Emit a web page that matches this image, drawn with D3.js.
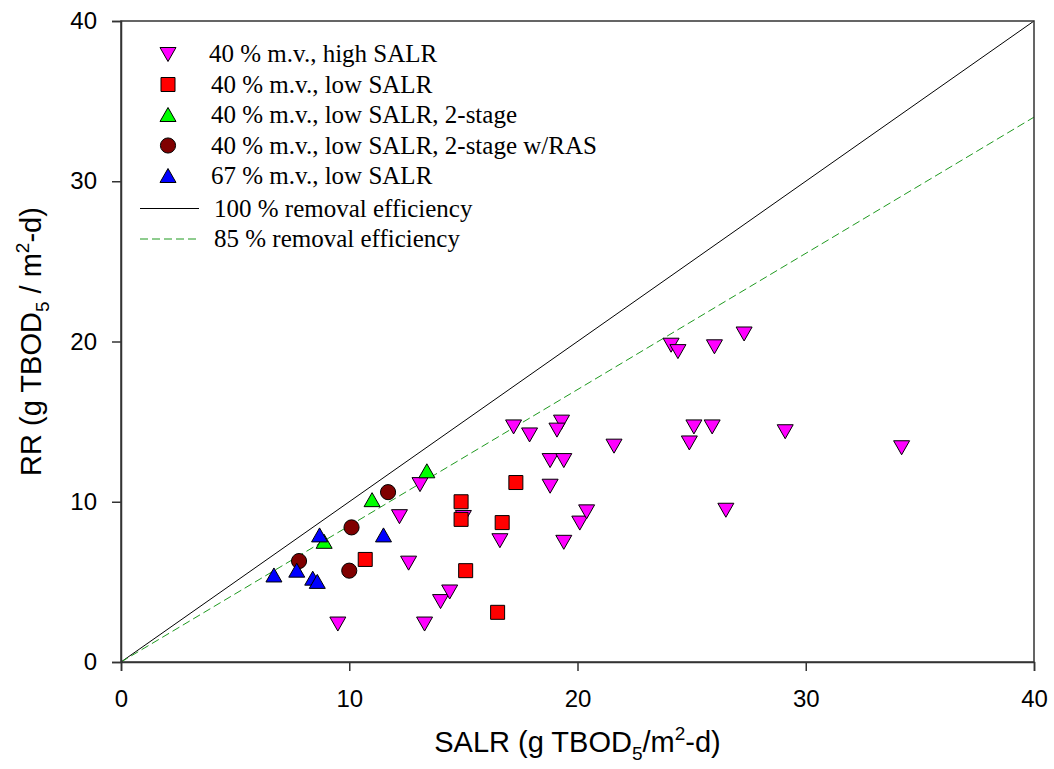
<!DOCTYPE html>
<html>
<head>
<meta charset="utf-8">
<script src="https://cdn.jsdelivr.net/npm/d3@7"></script>
<style>
  body { margin: 0; background: #fff; }
  svg { display: block; }
</style>
</head>
<body>
<div id="chart"></div>
<script>
// data, [SALR, RR]
var highSalr40 = [[9.5,2.4],[13.3,2.4],[12.6,6.2],[14.0,3.8],[14.4,4.4],[12.2,9.1],[13.1,11.1],[15.0,9.05],
  [16.6,7.6],[19.4,7.5],[20.1,8.7],[20.4,9.4],[18.8,11.0],[18.8,12.6],[19.4,12.6],[17.2,14.7],[17.9,14.2],
  [19.3,15.0],[19.1,14.5],[21.6,13.5],[25.1,14.7],[24.9,13.7],[25.9,14.7],[29.1,14.4],[34.2,13.4],[26.5,9.5],
  [24.1,19.8],[24.4,19.4],[26.0,19.7],[27.3,20.5]];
var lowSalr40 = [[17.3,11.2],[14.9,10.0],[14.9,8.9],[16.7,8.7],[15.1,5.7],[16.5,3.1],[10.7,6.4]];
var twoStage40 = [[11.0,10.1],[13.4,11.9],[8.9,7.5]];
var twoStageRas40 = [[11.7,10.6],[10.1,8.4],[7.8,6.3],[10.0,5.7]];
var lowSalr67 = [[8.7,7.9],[11.5,7.9],[6.7,5.4],[7.7,5.7],[8.4,5.2],[8.6,5.0]];
var efficiencyLines = [{name:"100 % removal efficiency", eff:1.0}, {name:"85 % removal efficiency", eff:0.85}];
var xTicks = [0,10,20,30,40];
var yTicks = [0,10,20,30,40];

var series = [
  {name:"40 % m.v., high SALR", data:highSalr40, shape:"down", fill:"#ff00ff"},
  {name:"40 % m.v., low SALR", data:lowSalr40, shape:"square", fill:"#ff0000"},
  {name:"40 % m.v., low SALR, 2-stage", data:twoStage40, shape:"up", fill:"#00ff00"},
  {name:"40 % m.v., low SALR, 2-stage w/RAS", data:twoStageRas40, shape:"circle", fill:"#800000"},
  {name:"67 % m.v., low SALR", data:lowSalr67, shape:"up", fill:"#0000ff"}
];

var W = 1054, H = 769;
var m = {left:121, right:20, top:21, bottom:107};
var sans = "'Liberation Sans', Arial, sans-serif";
var svg = d3.select("#chart").append("svg").attr("width",W).attr("height",H);

var x = d3.scaleLinear().domain([0,40]).range([m.left, W-m.right]);
var y = d3.scaleLinear().domain([0,40]).range([H-m.bottom, m.top]);

function markerPath(shape){
  if(shape==="down") return "M-8,-6.5L8,-6.5L0,7.5Z";
  if(shape==="up") return "M-8,6.5L8,6.5L0,-7.5Z";
  if(shape==="square") return "M-7,-7L7,-7L7,7L-7,7Z";
  return d3.symbol(d3.symbolCircle, 180)();
}

// reference lines
var lineGen = d3.line().x(function(d){return x(d[0])}).y(function(d){return y(d[1])});
svg.append("path").attr("d", lineGen([[0,0],[40,40*efficiencyLines[0].eff]]))
  .attr("stroke","#000").attr("stroke-width",1).attr("fill","none");
svg.append("path").attr("d", lineGen([[0,0],[40,40*efficiencyLines[1].eff]]))
  .attr("stroke","#1f9a1f").attr("stroke-width",1).attr("stroke-dasharray","8,4").attr("fill","none");

// points
series.forEach(function(s){
  svg.append("g").selectAll("path").data(s.data).enter().append("path")
    .attr("d", markerPath(s.shape))
    .attr("transform", function(d){return "translate("+x(d[0])+","+y(d[1])+")"})
    .attr("fill", s.fill).attr("stroke","#000").attr("stroke-width",1);
});

// frame
svg.append("rect").attr("x",x(0)).attr("y",y(40)).attr("width",x(40)-x(0)).attr("height",y(0)-y(40))
  .attr("fill","none").attr("stroke","#333").attr("stroke-width",1.5);

var xAxis = svg.append("g").attr("transform","translate(0,"+y(0)+")")
  .call(d3.axisBottom(x).tickValues(xTicks).tickSize(9).tickPadding(19));
var yAxis = svg.append("g").attr("transform","translate("+x(0)+",0)")
  .call(d3.axisLeft(y).tickValues(yTicks).tickSize(9).tickPadding(15));
[xAxis,yAxis].forEach(function(a){
  a.select(".domain").attr("stroke","#333").attr("stroke-width",1.5);
  a.selectAll(".tick line").attr("stroke","#333").attr("stroke-width",1.5);
  a.selectAll("text").attr("font-family",sans).attr("font-size","24px").attr("fill","#000");
});

// axis titles
var xt = svg.append("text").attr("x",(x(0)+x(40))/2).attr("y",752).attr("text-anchor","middle")
  .attr("font-family",sans).attr("font-size","29px");
xt.append("tspan").text("SALR (g TBOD");
xt.append("tspan").attr("font-size","19px").attr("dy",8).text("5");
xt.append("tspan").attr("dy",-8).text("/m");
xt.append("tspan").attr("font-size","19px").attr("dy",-12).text("2");
xt.append("tspan").attr("dy",12).text("-d)");

var yt = svg.append("text").attr("transform","translate(41,"+((y(0)+y(40))/2)+") rotate(-90)")
  .attr("text-anchor","middle").attr("font-family",sans).attr("font-size","29px");
yt.append("tspan").text("RR (g TBOD");
yt.append("tspan").attr("font-size","19px").attr("dy",8).text("5");
yt.append("tspan").attr("dy",-8).text(" / m");
yt.append("tspan").attr("font-size","19px").attr("dy",-12).text("2");
yt.append("tspan").attr("dy",12).text("-d)");

// legend
var lg = svg.append("g").attr("font-family","'Liberation Serif', 'Times New Roman', serif").attr("font-size","25px");
series.forEach(function(s,i){
  var cy = 54 + i*30.5;
  lg.append("path").attr("d", markerPath(s.shape)).attr("transform","translate(168,"+cy+")")
    .attr("fill",s.fill).attr("stroke","#000").attr("stroke-width",1);
  lg.append("text").attr("x", i===0 ? 209 : 211).attr("y",cy+8).text(s.name);
});
efficiencyLines.forEach(function(l,i){
  var cy = 208.5 + i*30.5;
  lg.append("line").attr("x1",140).attr("x2",199).attr("y1",cy).attr("y2",cy)
    .attr("stroke", i===0 ? "#000" : "#1f9a1f").attr("stroke-dasharray", i===0 ? null : "8,4");
  lg.append("text").attr("x",214).attr("y",cy+8).text(l.name);
});
</script>
</body>
</html>
